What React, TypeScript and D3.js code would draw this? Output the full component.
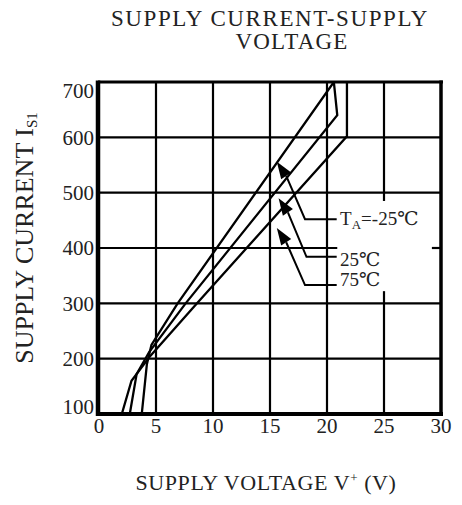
import React from "react";
import * as d3 from "d3";

// ---- data ----
const xTicks = [0, 5, 10, 15, 20, 25, 30];
const yTicks = [100, 200, 300, 400, 500, 600, 700];

const seriesNames = ["-25℃", "25℃", "75℃"];
// T_A = -25℃
const voltsM25 = [3.75, 4.2, 4.6, 6.9, 20.6];
const currM25 = [100, 190, 225, 300, 700];
// T_A = 25℃
const volts25 = [2.7, 3.3, 4.4, 7.6, 20.9, 20.6];
const curr25 = [100, 172, 212, 300, 640, 700];
// T_A = 75℃
const volts75 = [2.0, 2.85, 4.5, 8.6, 21.75, 21.75];
const curr75 = [100, 160, 205, 300, 602, 700];

// annotation anchors (data units): arrow tip, elbow, label row
const annTipV = [15.6, 15.75, 15.6];
const annTipI = [556, 490, 436];
const annElbowV = [18.07, 18.2, 18.07];
const annRowI = [452, 384, 333];
const annEndV = 20.85;

const FONT = "'Liberation Serif', 'Times New Roman', 'DejaVu Serif', serif";

export default function App() {
  const x = d3.scaleLinear().domain([0, 30]).range([99, 441]);
  const y = d3.scaleLinear().domain([100, 700]).range([414, 82]);

  const line = d3
    .line<[number, number]>()
    .x((d) => x(d[0]))
    .y((d) => y(d[1]));

  const series = [
    d3.zip(voltsM25, currM25) as [number, number][],
    d3.zip(volts25, curr25) as [number, number][],
    d3.zip(volts75, curr75) as [number, number][],
  ];

  // gridline segments in data units
  const vGrid: { v: number; segs: [number, number][] }[] = [5, 10, 15, 20, 25].map((v) => ({
    v,
    segs: v === 25 ? [[100, 322], [485, 700]] : [[100, 700]],
  }));
  const hGrid: { i: number; segs: [number, number][] }[] = [200, 300, 400, 500, 600].map((i) => ({
    i,
    segs: i === 400 ? [[0, 20.9], [29.2, 30]] : [[0, 30]],
  }));

  const arrows = annTipV.map((tv, k) => {
    const tx = x(tv);
    const ty = y(annTipI[k]);
    const ex = x(annElbowV[k]);
    const ey = y(annRowI[k]);
    const dx = 0.55;
    const dy = 0.835;
    const len = 17;
    const bx = tx + dx * len;
    const by = ty + dy * len;
    const hw = 6;
    const p1 = [bx - dy * hw, by + dx * hw];
    const p2 = [bx + dy * hw, by - dx * hw];
    return { tx, ty, bx, by, ex, ey, p1, p2, endX: x(annEndV) };
  });

  return (
    <svg
      width={462}
      height={505}
      style={{ position: "absolute", left: 0, top: 0, background: "#fff" }}
      fontFamily={FONT}
    >
      <rect x={0} y={0} width={462} height={505} fill="#fff" />
      {/* title */}
      <text x={270} y={26} fontSize={23} letterSpacing={1.6} textAnchor="middle" fill="#222">
        SUPPLY CURRENT-SUPPLY
      </text>
      <text x={292} y={49} fontSize={23} letterSpacing={1.2} textAnchor="middle" fill="#222">
        VOLTAGE
      </text>

      <defs>
        <clipPath id="plotclip">
          <rect x={x(0)} y={y(700)} width={x(30) - x(0)} height={y(100) - y(700)} />
        </clipPath>
      </defs>

      {/* grid */}
      <g stroke="#000" strokeWidth={2.2}>
        {vGrid.map((g) =>
          g.segs.map((s, j) => (
            <line key={`v${g.v}-${j}`} x1={x(g.v)} x2={x(g.v)} y1={y(s[0])} y2={y(s[1])} />
          ))
        )}
        {hGrid.map((g) =>
          g.segs.map((s, j) => (
            <line key={`h${g.i}-${j}`} x1={x(s[0])} x2={x(s[1])} y1={y(g.i)} y2={y(g.i)} />
          ))
        )}
      </g>

      {/* curves */}
      <g clipPath="url(#plotclip)" fill="none" stroke="#000" strokeWidth={2.3} strokeLinejoin="miter">
        {series.map((s, k) => (
          <path key={seriesNames[k]} d={line(s) || ""} />
        ))}
      </g>

      {/* frame */}
      <g stroke="#000">
        <line x1={x(0) - 1} x2={x(30) + 2} y1={y(700)} y2={y(700)} strokeWidth={3} />
        <line x1={x(0) - 1} x2={x(30) + 2} y1={y(100)} y2={y(100)} strokeWidth={4} />
        <line x1={x(0) - 1} x2={x(0) - 1} y1={y(700) - 1.5} y2={y(100) + 2} strokeWidth={4.5} />
        <line x1={x(30)} x2={x(30)} y1={y(700) - 1.5} y2={y(100) + 2} strokeWidth={3.5} />
      </g>

      {/* annotations */}
      <g>
        {arrows.map((a, k) => (
          <g key={`ann${k}`}>
            <polygon
              points={`${a.tx},${a.ty} ${a.p1[0]},${a.p1[1]} ${a.p2[0]},${a.p2[1]}`}
              fill="#000"
            />
            <polyline
              points={`${a.bx},${a.by} ${a.ex},${a.ey} ${a.endX},${a.ey}`}
              fill="none"
              stroke="#000"
              strokeWidth={2}
            />
          </g>
        ))}
        <text x={x(21.15)} y={y(annRowI[0]) + 6} fontSize={19} fill="#222">
          T<tspan fontSize={13} dy={4}>A</tspan>
          <tspan dy={-4}>=-25℃</tspan>
        </text>
        <text x={x(21.15)} y={y(annRowI[1]) + 9} fontSize={19} fill="#222">
          25℃
        </text>
        <text x={x(21.15)} y={y(annRowI[2]) + 1} fontSize={19} fill="#222">
          75℃
        </text>
      </g>

      {/* y tick labels */}
      <g fontSize={21} fill="#222" textAnchor="end">
        {yTicks.map((t) => {
          const off = t === 700 ? 9 : t === 100 ? -7 : 0;
          return (
            <text key={`yt${t}`} x={94} y={y(t) + off} dy="0.35em">
              {t}
            </text>
          );
        })}
      </g>

      {/* x tick labels */}
      <g fontSize={21} fill="#222" textAnchor="middle">
        {xTicks.map((t) => (
          <text key={`xt${t}`} x={x(t)} y={433}>
            {t}
          </text>
        ))}
      </g>

      {/* axis titles */}
      <text x={266} y={490} fontSize={22} letterSpacing={0.6} textAnchor="middle" fill="#222">
        SUPPLY VOLTAGE V<tspan fontSize={13} dy={-8}>+</tspan>
        <tspan dy={8}> (V)</tspan>
      </text>
      <text
        transform={`translate(33, 238) rotate(-90)`}
        fontSize={26}
        textAnchor="middle"
        fill="#222"
      >
        SUPPLY CURRENT I<tspan fontSize={15} dy={4}>S1</tspan>
      </text>
    </svg>
  );
}
